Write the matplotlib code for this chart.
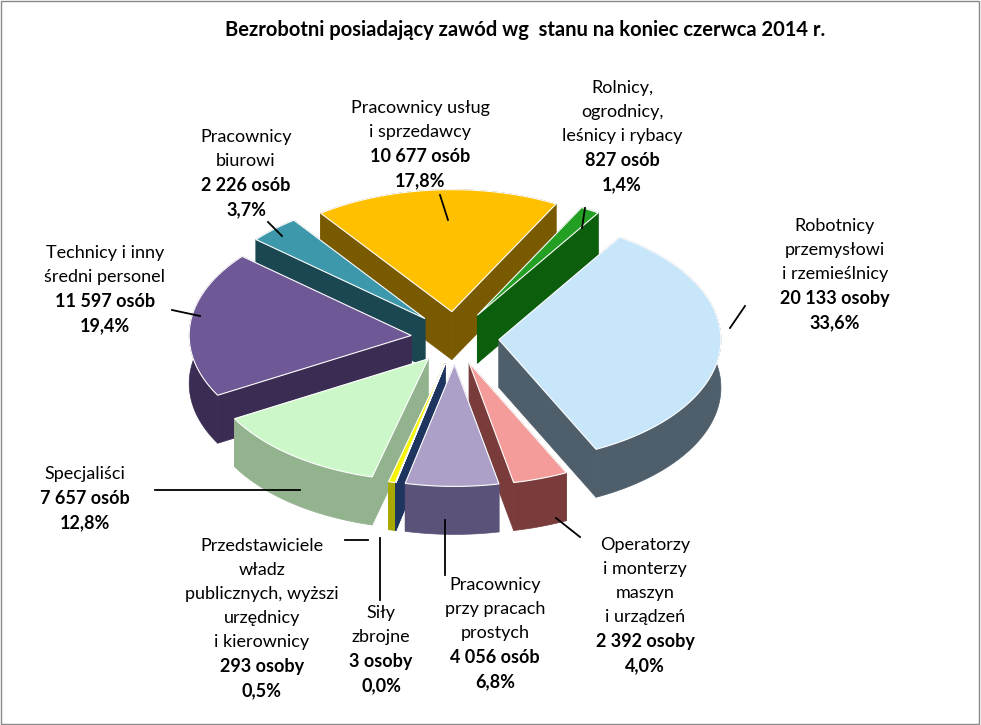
import numpy as np
import matplotlib.pyplot as plt
from matplotlib.patches import Polygon

plt.rcParams['font.family'] = 'Lato'

# data (clockwise order starting near 12 o'clock)
categories = ['Rolnicy', 'Robotnicy', 'Operatorzy', 'Proste', 'Sily', 'Przedstawiciele',
              'Specjalisci', 'Technicy', 'Biurowi', 'Uslug']
counts = [827, 20133, 2392, 4056, 3, 293, 7657, 11597, 2226, 10677]
counts_txt = ['827 osób', '20 133 osoby', '2 392 osoby', '4 056 osób', '3 osoby', '293 osoby',
              '7 657 osób', '11 597 osób', '2 226 osób', '10 677 osób']
pct_txt = ['1,4%', '33,6%', '4,0%', '6,8%', '0,0%', '0,5%', '12,8%', '19,4%', '3,7%', '17,8%']
names = [['Rolnicy,', 'ogrodnicy,', 'leśnicy i rybacy'],
         ['Robotnicy', 'przemysłowi', 'i rzemieślnicy'],
         ['Operatorzy', 'i monterzy', 'maszyn', 'i urządzeń'],
         ['Pracownicy', 'przy pracach', 'prostych'],
         ['Siły', 'zbrojne'],
         ['Przedstawiciele', 'władz', 'publicznych, wyższi', 'urzędnicy', 'i kierownicy'],
         ['Specjaliści'],
         ['Technicy i inny', 'średni personel'],
         ['Pracownicy', 'biurowi'],
         ['Pracownicy usług', 'i sprzedawcy']]

top_colors = ['#23A023', '#C8E6FA', '#F39C9A', '#ACA0C8', '#3A62A0', '#F5F500',
              '#CCF7C8', '#6E5896', '#3C98AA', '#FFC000']
side_colors = ['#0B5E0B', '#4E5E6A', '#7A3C3A', '#5A5278', '#1E3560', '#A8A800',
               '#93B28E', '#3A2C52', '#1B4752', '#7A5A00']

# layout (pixel coords)
label_pos = [(622, 80), (835, 218), (645, 537), (495, 577), (381, 605), (262, 538),
             (85, 466), (105, 245), (246, 129), (420, 100)]
leaders = [[(585, 208), (582, 228)], [(745, 306), (730, 328)], [(580, 537), (556, 518)],
           [(445, 575), (445, 520)], [(380, 600), (380, 538)], [(345, 540), (368, 540)],
           [(155, 490), (300, 490)], [(172, 310), (200, 316)], [(268, 222), (282, 236)],
           [(440, 195), (448, 220)]]

cx, cy, rx, ry, depth, expl = 455, 338, 222, 122, 48, 44

fig = plt.figure(figsize=(9.81, 7.25), dpi=100)
ax = fig.add_axes([0, 0, 1, 1])
ax.set_xlim(0, 981)
ax.set_ylim(725, 0)
ax.axis('off')
fig.patches.append(plt.Rectangle((0.001, 0.001), 0.997, 0.997, transform=fig.transFigure,
                                 fill=False, ec='#888888', lw=1))

total = sum(counts)
start = 62.0
wedges = []
a = start
for i, c in enumerate(counts):
    span = 360.0 * c / total
    wedges.append((i, a - span, a))
    a -= span


def pt(ox, oy, t, r=1.0, dz=0):
    return (ox + rx * r * np.cos(t), oy - ry * r * np.sin(t) + dz)


order = sorted(wedges, key=lambda w: -np.sin(np.radians((w[1] + w[2]) / 2)))
for i, a0, a1 in order:
    mid = np.radians((a0 + a1) / 2)
    ox = cx + expl * np.cos(mid)
    oy = cy - expl * 0.6 * np.sin(mid)
    t = np.radians(np.linspace(a0, a1, 80))
    sc, tc = side_colors[i], top_colors[i]
    # radial faces
    for e in (np.radians(a0), np.radians(a1)):
        p = pt(ox, oy, e)
        ax.add_patch(Polygon([(ox, oy), p, (p[0], p[1] + depth), (ox, oy + depth)],
                             closed=True, fc=sc, ec=sc, lw=0.5))
    # outer band
    arc = [pt(ox, oy, tt) for tt in t]
    arcb = [pt(ox, oy, tt, dz=depth) for tt in t[::-1]]
    ax.add_patch(Polygon(arc + arcb, closed=True, fc=sc, ec=sc, lw=0.5))
    # top
    ax.add_patch(Polygon([(ox, oy)] + arc, closed=True, fc=tc, ec='white', lw=0.8))

for i in range(len(categories)):
    x, y = label_pos[i]
    lines = names[i]
    for k, s in enumerate(lines):
        ax.text(x, y + 24 * k, s, ha='center', va='top', fontsize=13)
    n = len(lines)
    ax.text(x, y + 24 * n, counts_txt[i], ha='center', va='top', fontsize=13, fontweight='bold')
    ax.text(x, y + 24 * (n + 1), pct_txt[i], ha='center', va='top', fontsize=13, fontweight='bold')
    xs, ys = zip(*leaders[i])
    ax.plot(xs, ys, color='black', lw=1.3)

ax.text(525, 20, 'Bezrobotni posiadający zawód wg  stanu na koniec czerwca 2014 r.',
        ha='center', va='top', fontsize=14.5, fontweight='bold')

fig.savefig('out.png', dpi=100)
